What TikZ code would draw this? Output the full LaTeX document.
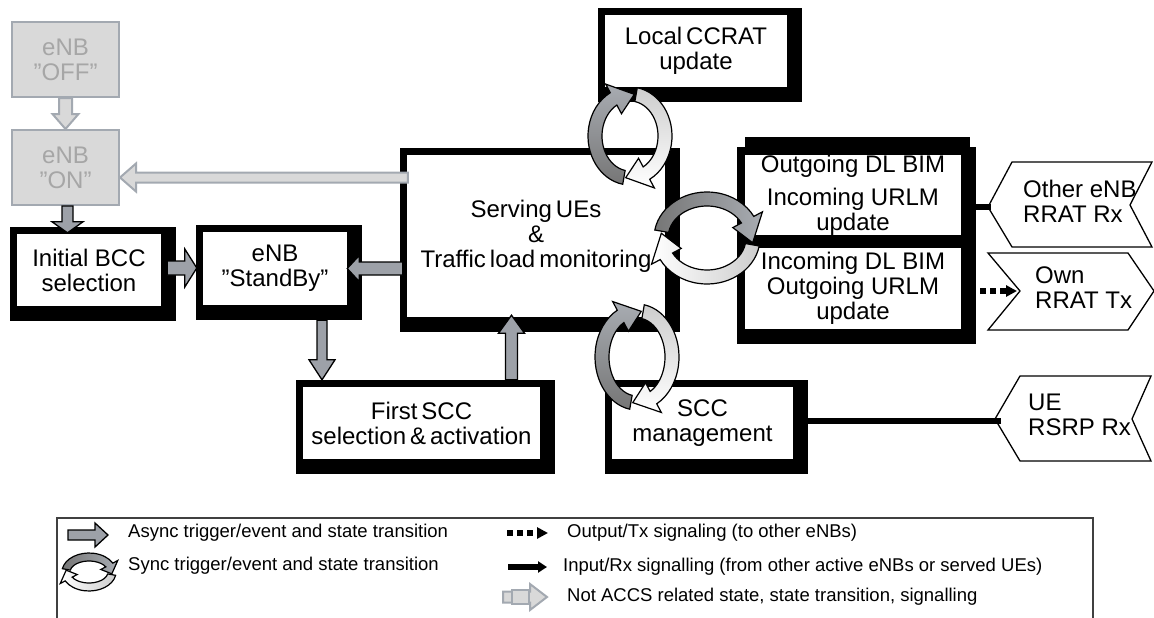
\documentclass[tikz,border=0pt]{standalone}
\usepackage{fontspec}
\setmainfont{Liberation Sans}
\usetikzlibrary{calc,backgrounds,arrows.meta}

\definecolor{offfill}{HTML}{D9D9D9}
\definecolor{offline}{HTML}{A3A9B1}
\definecolor{offtext}{HTML}{A6A6A6}
\definecolor{asyncfill}{HTML}{9DA1A8}
\definecolor{cycdark}{HTML}{767676}
\definecolor{cycmid}{HTML}{A8ACB2}
\definecolor{cyclight}{HTML}{CDCDCD}
\definecolor{legendline}{HTML}{404040}

\tikzset{
  boxfont/.style={font=\fontsize{24}{25}\selectfont},
  statebox/.style={boxfont, fill=white, inner sep=0pt, align=center},
  offbox/.style={boxfont, fill=offfill, draw=offline, line width=2pt, text=offtext,
    inner sep=0pt, align=center, minimum width=107pt, minimum height=75pt},
  asyncarrow/.style={fill=asyncfill, draw=black, line width=1.3pt, line join=miter},
  offarrow/.style={fill=offfill, draw=offline, line width=2pt, line join=miter},
  rxline/.style={line width=6pt, -{Triangle[length=9pt,width=11pt]}},
  txline/.style={line width=6pt, dash pattern=on 6pt off 4pt, -{Triangle[length=11pt,width=11pt]}},
  flag/.style={draw=black, line width=1.3pt, fill=white, line join=miter},
  flagtext/.style={boxfont, align=left, inner sep=0pt, anchor=west},
  legendtext/.style={font=\fontsize{18.5}{20}\selectfont, anchor=west, inner sep=0pt},
  cyc/.style={draw=black, line width=1.2pt, line join=miter},
}

% thick black frame around a state box: thin on top/left, heavy on bottom/right
\newcommand\stateframe[1]{%
  \fill ([shift={(-7,-7)}]#1.north west) rectangle ([shift={(15,15)}]#1.south east);}

% block arrow: #1 style, #2 tail, #3 tip, #4 shaft half width, #5 head half width, #6 head length
\newcommand\blockarrow[6][]{%
  \coordinate (ba-h) at ($(#3)!#6!(#2)$);
  \path[#1] ($(#2)!#4!90:(#3)$) -- ($(ba-h)!#4!90:(#3)$) -- ($(ba-h)!#5!90:(#3)$)
    -- (#3) -- ($(ba-h)!#5!-90:(#3)$) -- ($(ba-h)!#4!-90:(#3)$)
    -- ($(#2)!#4!-90:(#3)$) -- cycle;}

% one curved half of a cycle symbol: #1 tail angle, #2 head base angle, #3 tip angle, #4 style
\newcommand\cyclehalf[4]{%
  \pgfmathsetmacro\cyA{#1}\pgfmathsetmacro\cyB{#2}\pgfmathsetmacro\cyC{#3}%
  \path[cyc,#4] ({\cyRxo*cos(\cyA)},{\cyRyo*sin(\cyA)})
    arc[start angle=\cyA, end angle=\cyB, x radius=\cyRxo, y radius=\cyRyo]
    -- ({\cyRxa*cos(\cyB)},{\cyRya*sin(\cyB)})
    -- ({\cyRxm*cos(\cyC)},{\cyRym*sin(\cyC)})
    -- ({\cyRxb*cos(\cyB)},{\cyRyb*sin(\cyB)})
    -- ({\cyRxi*cos(\cyB)},{\cyRyi*sin(\cyB)})
    arc[start angle=\cyB, end angle=\cyA, x radius=\cyRxi, y radius=\cyRyi] -- cycle;}

% cycle symbol: #1 cx, #2 cy, #3 rx, #4 ry, #5 band width, #6 turn, #7 dark half, #8 light half
\newcommand\cyclesym[8]{%
  \begin{scope}[shift={(#1,#2)}]
    \pgfmathsetmacro\cyRxo{#3}\pgfmathsetmacro\cyRyo{#4}%
    \pgfmathsetmacro\cyRxi{#3-#5}\pgfmathsetmacro\cyRyi{#4-#5}%
    \pgfmathsetmacro\cyRxm{#3-#5/2}\pgfmathsetmacro\cyRym{#4-#5/2}%
    \pgfmathsetmacro\cyRxa{#3+0.7*#5}\pgfmathsetmacro\cyRya{#4+0.7*#5}%
    \pgfmathsetmacro\cyRxb{#3-1.7*#5}\pgfmathsetmacro\cyRyb{#4-1.7*#5}%
    \cyclehalf{100+#6}{242+#6}{277+#6}{#7}
    \cyclehalf{280+#6}{422+#6}{457+#6}{#8}
  \end{scope}}

\begin{document}
\begin{tikzpicture}[x=1pt,y=-1pt]
\useasboundingbox (0,0) rectangle (1154,618);
\clip (0,0) rectangle (1154,618);

% states outside ACCS
\node[offbox] (off) at (65.5,59.5) {eNB\\”OFF”};
\node[offbox] (on) at (65.5,167.5) {eNB\\”ON”};

% ACCS states
\node[statebox, minimum width=144pt, minimum height=72pt] (bcc) at (89,270) {Initial BCC\\selection};
\node[statebox, minimum width=144pt, minimum height=73pt] (stb) at (275,268.5) {eNB\\”StandBy”};
\node[statebox, minimum width=258pt, minimum height=162pt] (srv) at (536,236)
  {Serving\,UEs\\\&\\Traffic\,load\,monitoring};
\node[statebox, minimum width=182pt, minimum height=72pt] (local) at (696,51) {Local\,CCRAT\\update};
\node[statebox, minimum width=237pt, minimum height=72pt] (first) at (421.5,423)
  {First\,SCC\\selection\,\&\,activation};
\node[statebox, minimum width=181pt, minimum height=72pt] (sccm) at (702.5,423)
  {SCC\\management};
\node[statebox, minimum width=216pt, minimum height=80pt] (outb) at (853,195)
  {Outgoing DL BIM\\[8pt]Incoming URLM\\update};
\node[statebox, minimum width=216pt, minimum height=81pt] (inb) at (853,288.5)
  {Incoming DL BIM\\Outgoing URLM\\update};

\begin{scope}[on background layer]
  \stateframe{bcc}
  \stateframe{stb}
  \stateframe{srv}
  \stateframe{local}
  \stateframe{first}
  \stateframe{sccm}
  \fill ([shift={(-8,-8)}]outb.north west) rectangle ([shift={(15,15)}]inb.south east);
  \fill ([shift={(0,-18)}]outb.north west) rectangle ([shift={(9,-5)}]outb.north east);
\end{scope}

% signalling peers
\draw[flag] (988,207) coordinate (oenb-tip) -- (1012,162) -- (1152,162) -- (1130,205)
  -- (1152,247) -- (1012,247) -- cycle;
\node[flagtext] (oenb) at (1023,201) {Other eNB\\RRAT Rx};
\draw[flag] (988,253) -- (1128,253) -- (1154,291) -- (1128,330) -- (988,330)
  -- (1020,291) coordinate (own-notch) -- cycle;
\node[flagtext] (own) at (1035,288) {Own\\RRAT Tx};
\draw[flag] (995,419) coordinate (ue-tip) -- (1020,376) -- (1151,376) -- (1132,419)
  -- (1151,461) -- (1020,461) -- cycle;
\node[flagtext] (ue) at (1028,415) {UE\\RSRP Rx};

% signalling
\draw[rxline] ($(oenb-tip)+(3,0)$) -- (oenb-tip -| outb.east);
\coordinate (tx-start) at ($(inb.east |- own-notch)+(19,0)$);
\draw[txline] (tx-start) -- ($(own-notch)+(-3,0)$);
\draw[rxline] ($(ue-tip)+(6,2)$) -- ($(ue-tip -| sccm.east)+(3,2)$);

% transitions between states outside ACCS
\blockarrow[offarrow]{off.south}{$(off.south)+(0,31)$}{6.5pt}{13pt}{15pt}
\coordinate (srv-w) at ($(srv.west |- on.east)+(1,10)$);
\coordinate (on-e) at ($(on.east)+(0,10)$);
\blockarrow[offarrow]{srv-w}{on-e}{5pt}{14pt}{16pt}

% asynchronous transitions
\coordinate (a1) at ($(on.south)+(2,0)$);
\coordinate (a2) at ($(a1 |- bcc.north)+(0,-1)$);
\blockarrow[asyncarrow]{a1}{a2}{5.5pt}{15.5pt}{11pt}
\coordinate (b1) at ($(bcc.east)+(6,-2)$);
\coordinate (b2) at ($(stb.west |- b1)+(-6,0)$);
\blockarrow[asyncarrow]{b1}{b2}{7pt}{19pt}{12pt}
\coordinate (c1) at ($(srv.west |- stb.east)+(-4,0)$);
\blockarrow[asyncarrow]{c1}{stb.east}{6.5pt}{13pt}{12pt}
\coordinate (d1) at ($(stb.south)+(47,15)$);
\coordinate (d2) at ($(d1 |- first.north)+(0,-7)$);
\blockarrow[asyncarrow]{d1}{d2}{5pt}{13pt}{20pt}
\coordinate (e1) at ($(first.north)+(90,-7)$);
\coordinate (e2) at ($(e1 |- srv.south)+(0,-2)$);
\blockarrow[asyncarrow]{e1}{e2}{6pt}{13pt}{18pt}

% synchronous transitions
\cyclesym{630}{136}{42}{49}{14}{0}{top color=cycmid,bottom color=cycdark}{top color=cyclight,bottom color=white}
\cyclesym{637}{357}{42}{53}{14}{0}{top color=cycmid,bottom color=cycdark}{top color=cyclight,bottom color=white}
\cyclesym{707}{238}{53}{46}{14}{90}{left color=cycdark,right color=cycmid}{left color=white,right color=cyclight}

% legend
\draw[legendline, line width=1.3pt] (57,518) rectangle (1093,660);
\coordinate (la1) at (68,535);
\coordinate (la2) at (108,535);
\blockarrow[asyncarrow]{la1}{la2}{5pt}{12pt}{13pt}
\node[legendtext] (lasync) at (128,533) {Async trigger/event and state transition};
\cyclesym{89}{572}{27}{19}{8}{90}{left color=cycdark,right color=cycmid}{left color=white,right color=cyclight}
\node[legendtext] (lsync) at (128,566) {Sync trigger/event and state transition};
\coordinate (lt1) at (507,533);
\coordinate (lt2) at (548,533);
\draw[txline] (lt1) -- (lt2);
\node[legendtext] (ltx) at (567,533) {Output/Tx signaling (to other eNBs)};
\coordinate (lr1) at (508,567);
\coordinate (lr2) at (547,567);
\draw[rxline] (lr1) -- (lr2);
\node[legendtext] (lrx) at (563,567) {Input/Rx signalling (from other active eNBs or served UEs)};
\coordinate (ln1) at (503,597);
\coordinate (ln2) at (547,597);
\blockarrow[offarrow]{ln1}{ln2}{5.5pt}{13pt}{17pt}
\filldraw[offarrow] (512,590) rectangle (529,604);
\node[legendtext] (lna) at (567,597) {Not ACCS related state, state transition, signalling};
\end{tikzpicture}
\end{document}
